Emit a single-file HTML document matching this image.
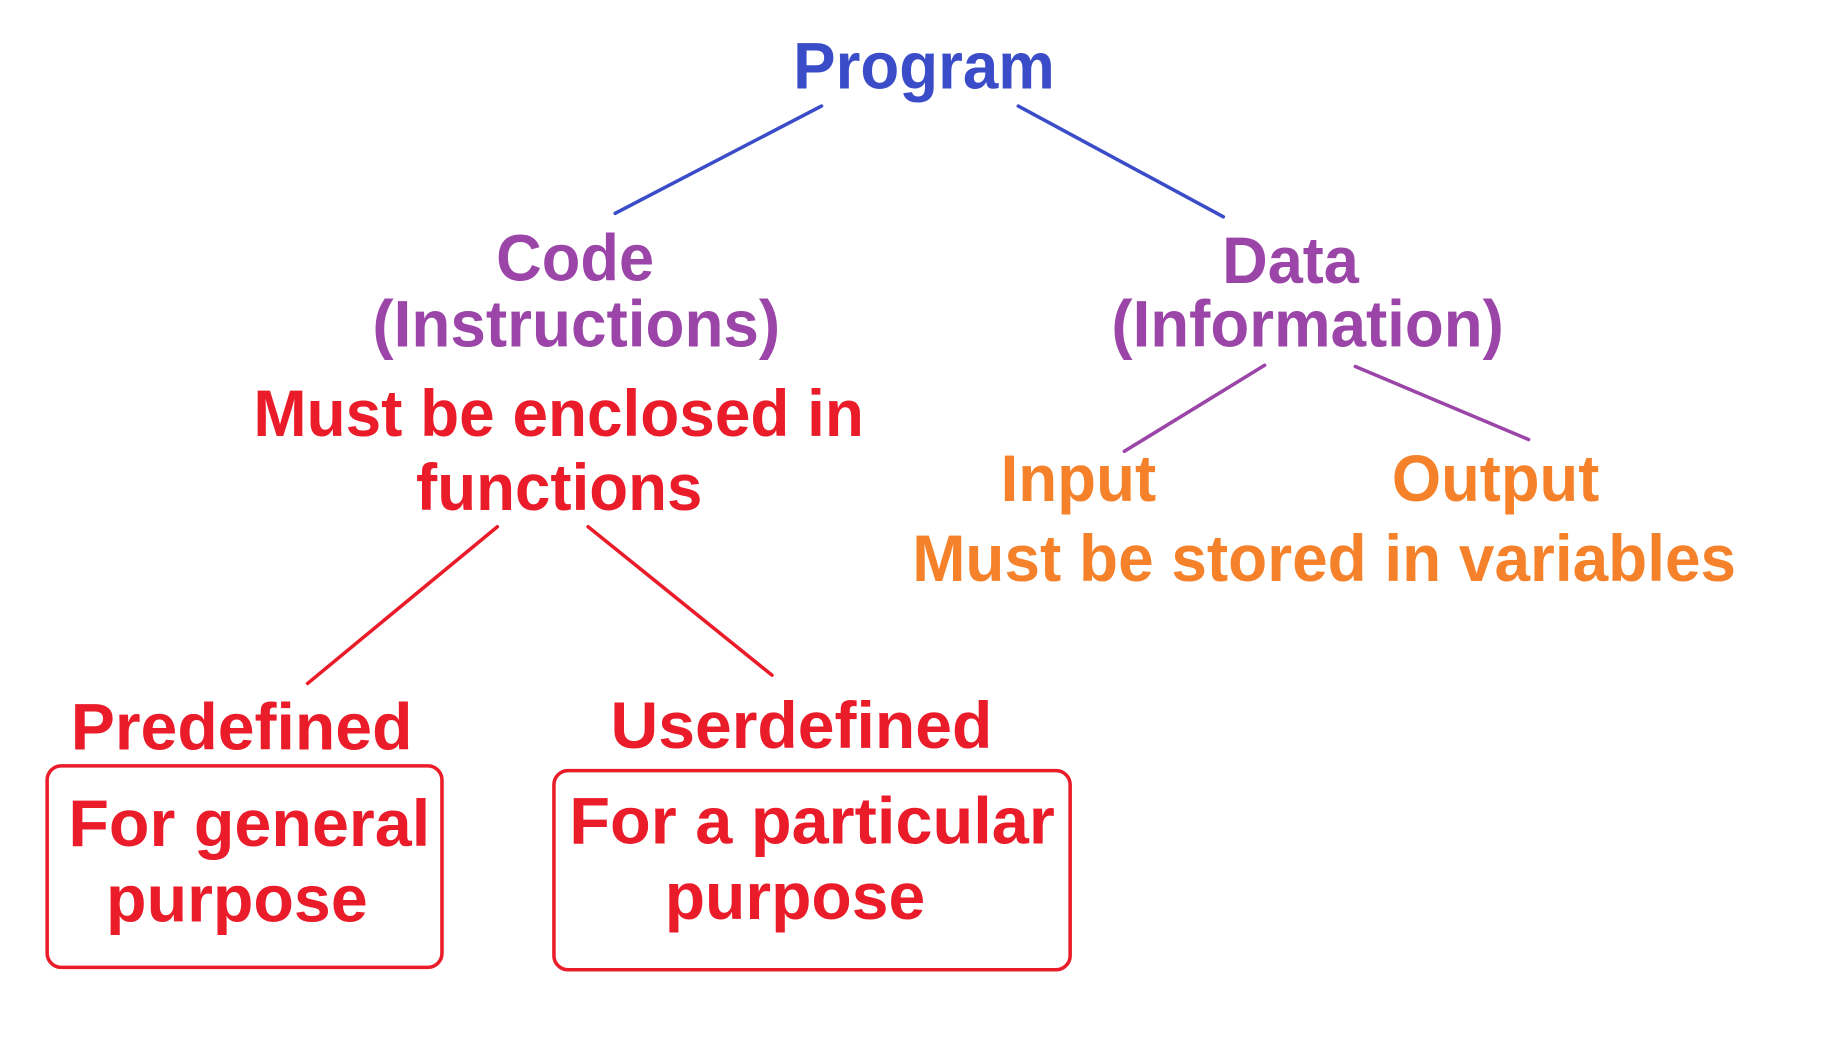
<!DOCTYPE html>
<html><head><style>html,body{margin:0;padding:0;background:#fff;}svg{display:block}</style></head>
<body>
<svg width="1848" height="1044" viewBox="0 0 1568 886" preserveAspectRatio="none" xmlns="http://www.w3.org/2000/svg" font-family="Liberation Sans, Arial, sans-serif" font-weight="bold" font-size="56">
<g stroke-width="3" stroke-linecap="round">
<line x1="697" y1="90" x2="522" y2="181" stroke="#3b4cc9"/>
<line x1="864" y1="90" x2="1038" y2="184" stroke="#3b4cc9"/>
<line x1="1073" y1="310" x2="954" y2="383" stroke="#9b45a8"/>
<line x1="1150" y1="311" x2="1297" y2="373" stroke="#9b45a8"/>
<line x1="422" y1="447" x2="261" y2="580" stroke="#ea1c2a"/>
<line x1="499" y1="447" x2="655" y2="573" stroke="#ea1c2a"/>
</g>
<rect x="40" y="650" width="335" height="171" rx="12" fill="none" stroke="#ea1c2a" stroke-width="3"/>
<rect x="470" y="654" width="438" height="169" rx="12" fill="none" stroke="#ea1c2a" stroke-width="3"/>
<text x="673" y="75" textLength="222" lengthAdjust="spacingAndGlyphs" fill="#3b4cc9">Program</text>
<g fill="#9b45a8">
<text x="421" y="238" textLength="134" lengthAdjust="spacingAndGlyphs">Code</text>
<text x="316" y="294" textLength="346" lengthAdjust="spacingAndGlyphs">(Instructions)</text>
<text x="1037" y="240" textLength="116" lengthAdjust="spacingAndGlyphs">Data</text>
<text x="943" y="294" textLength="333" lengthAdjust="spacingAndGlyphs">(Information)</text>
</g>
<g fill="#ea1c2a">
<text x="215" y="370" textLength="518" lengthAdjust="spacingAndGlyphs">Must be enclosed in</text>
<text x="353" y="433" textLength="243" lengthAdjust="spacingAndGlyphs">functions</text>
<text x="60" y="636" textLength="290" lengthAdjust="spacingAndGlyphs">Predefined</text>
<text x="518" y="635" textLength="324" lengthAdjust="spacingAndGlyphs">Userdefined</text>
<text x="58" y="718" textLength="307" lengthAdjust="spacingAndGlyphs">For general</text>
<text x="90" y="782" textLength="222" lengthAdjust="spacingAndGlyphs">purpose</text>
<text x="483" y="716" textLength="412" lengthAdjust="spacingAndGlyphs">For a particular</text>
<text x="564" y="780" textLength="221" lengthAdjust="spacingAndGlyphs">purpose</text>
</g>
<g fill="#f5822a">
<text x="849" y="425" textLength="132" lengthAdjust="spacingAndGlyphs">Input</text>
<text x="1181" y="425" textLength="176" lengthAdjust="spacingAndGlyphs">Output</text>
<text x="774" y="493" textLength="699" lengthAdjust="spacingAndGlyphs">Must be stored in variables</text>
</g>
</svg>
</body></html>
